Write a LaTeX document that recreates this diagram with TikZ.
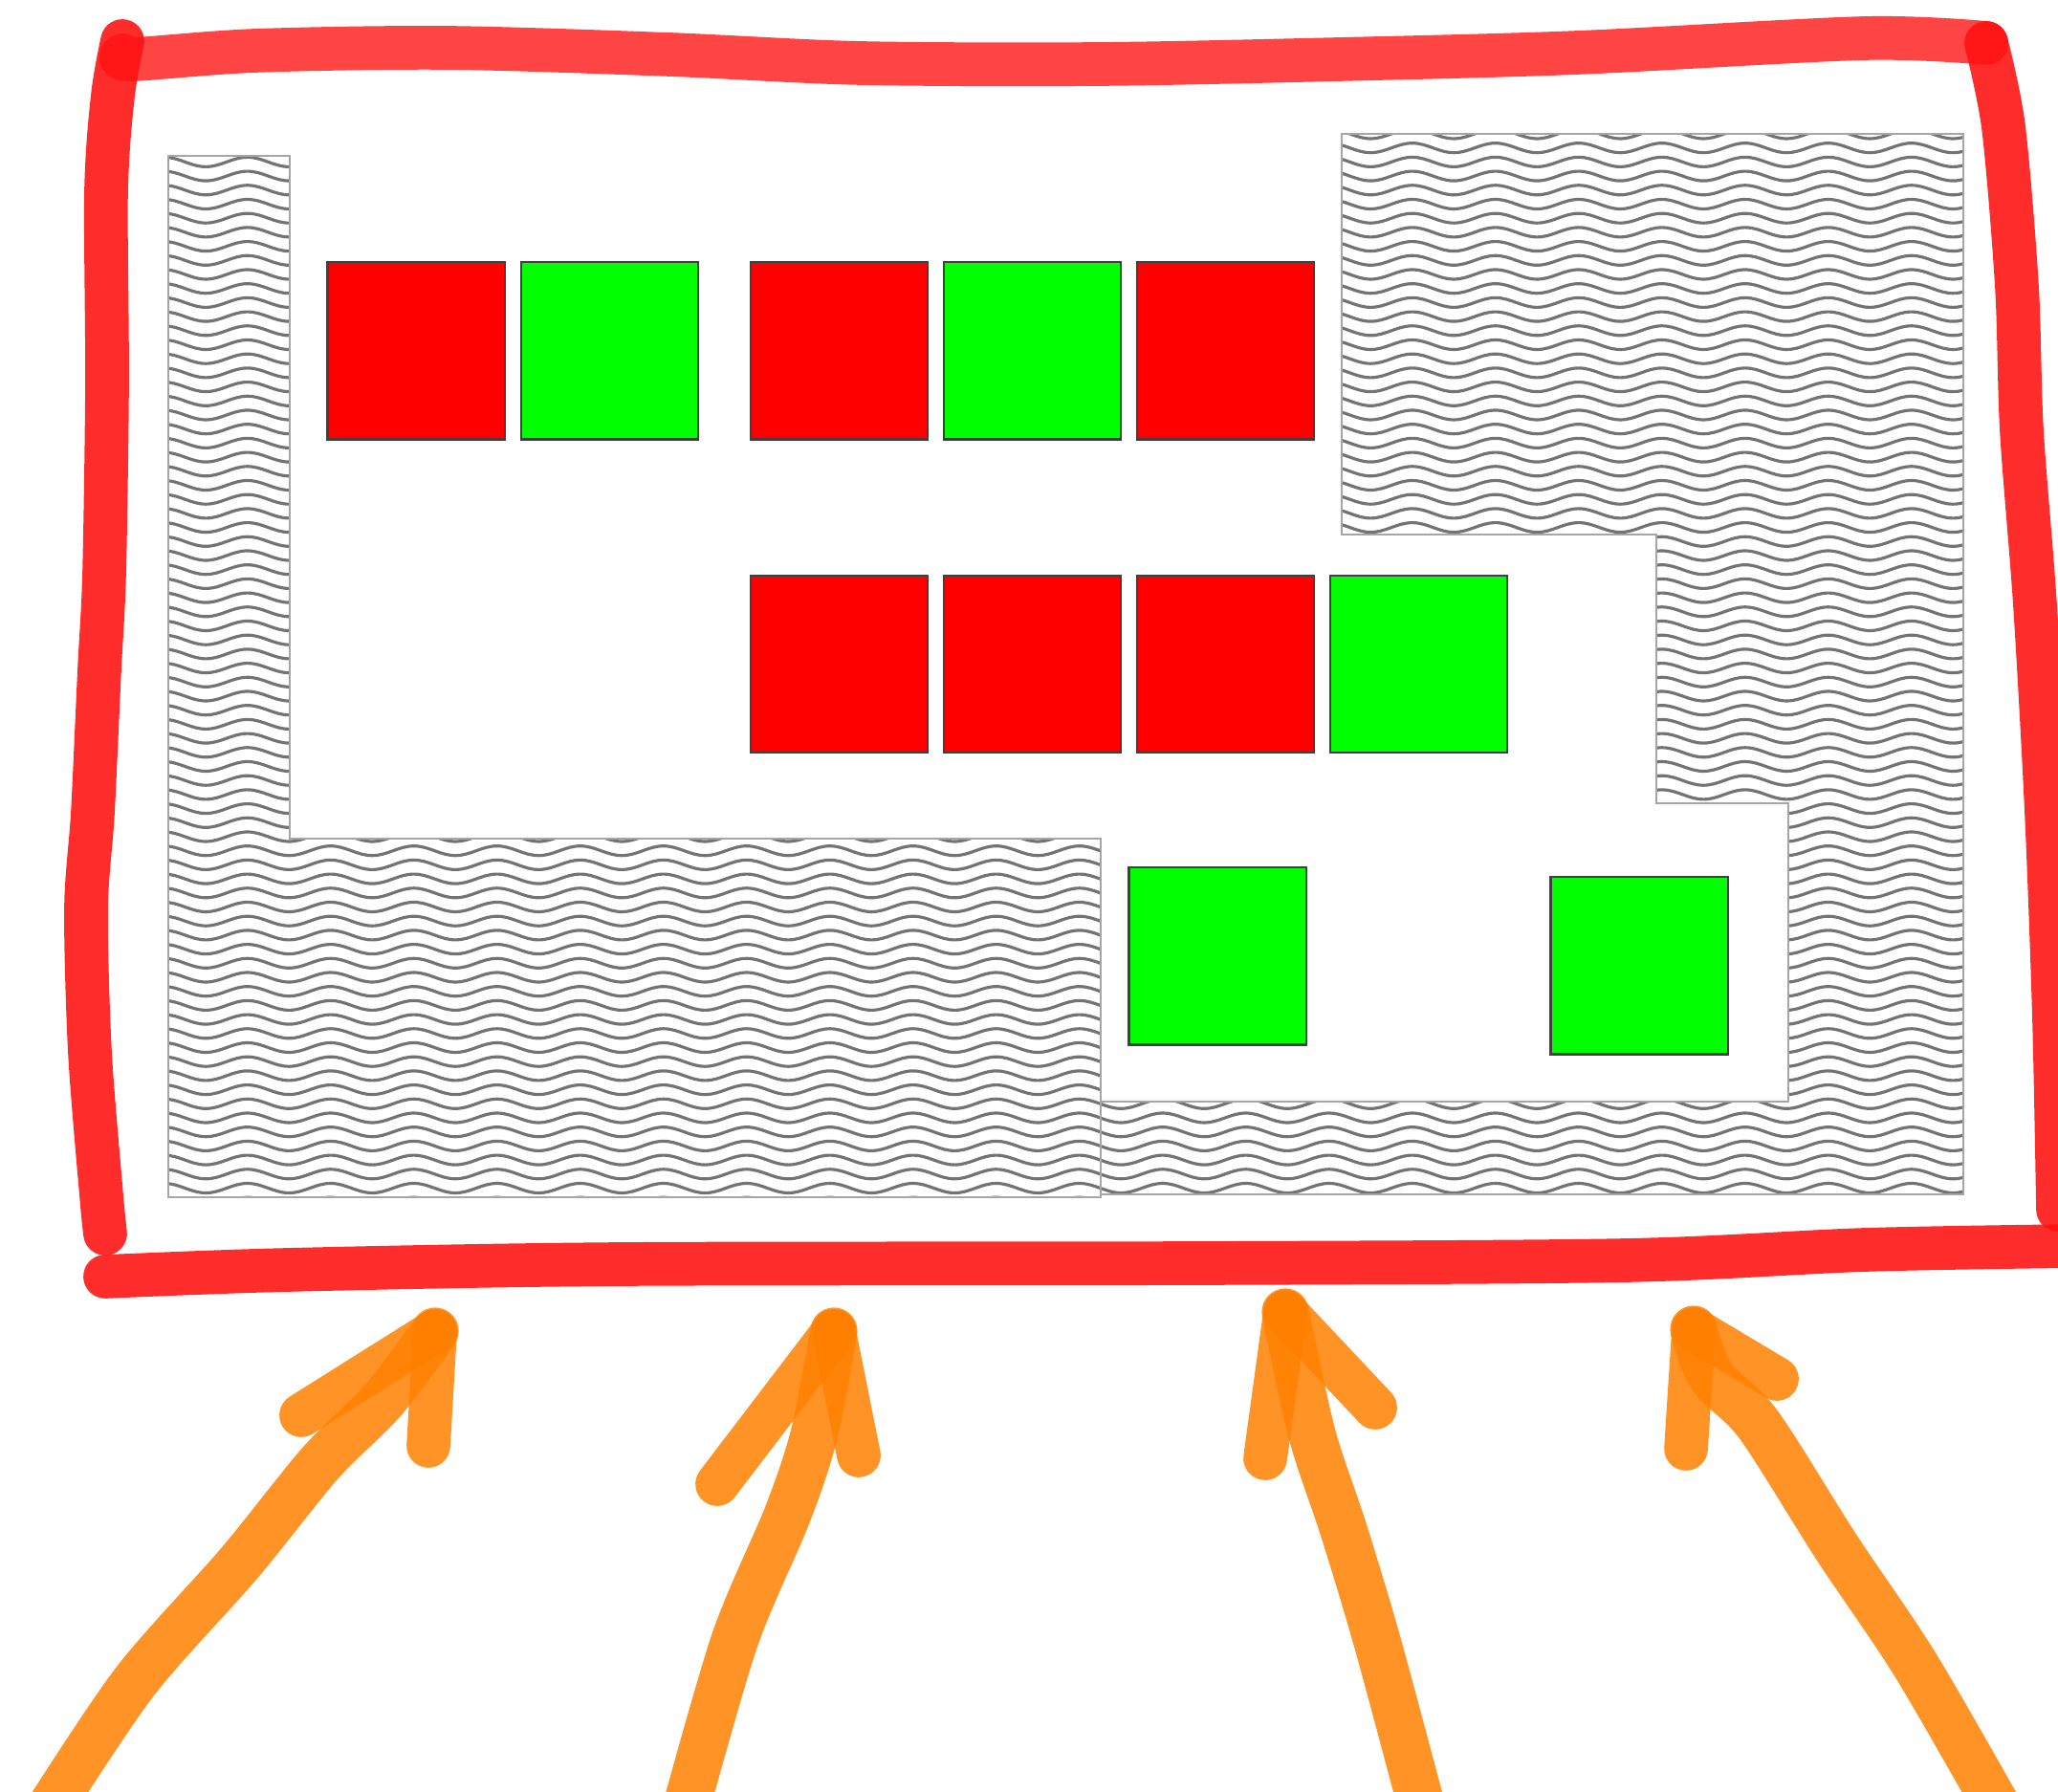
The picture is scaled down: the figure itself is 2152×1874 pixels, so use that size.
\documentclass[tikz,border=0pt]{standalone}
\usepackage{tikz}
\usetikzlibrary{positioning}

\definecolor{pen}{RGB}{255,15,15}
\definecolor{marker}{RGB}{255,128,0}

\tikzset{
  sq/.style={draw=black!75, line width=0.6pt, minimum size=1.85cm, inner sep=0pt, outer sep=0pt},
  rd/.style={sq, fill=red},
  gr/.style={sq, fill=green},
  wave/.style={draw=black!55, line width=0.9pt},
  zone/.style={draw=black!35, line width=0.45pt},
  redpen/.style={draw=pen, line width=13pt, line cap=round, line join=round, opacity=0.88},
  orangepen/.style={draw=marker, line width=14pt, line cap=round, line join=round, opacity=0.85},
  barb/.style={orangepen, line width=13pt}
}

\begin{document}
\begin{tikzpicture}[x=0.01cm, y=-0.01cm]
  \useasboundingbox (0,0) rectangle (2152,1874);

  % hatched zones
  \begin{scope}
    \clip (176,163) -- (303,163) -- (303,877) -- (1151,877) -- (1151,1252) -- (176,1252) -- cycle
      (1403,140) -- (2053,140) -- (2053,1249) -- (1151,1249) -- (1151,1152) -- (1870,1152)
      -- (1870,840) -- (1732,840) -- (1732,559) -- (1403,559) -- cycle;
    \foreach \i in {0,...,76}
      \draw[wave] (150,{140+14.7*\i}) \foreach \k in {1,...,23} {
        sin ++(21.75,-5) cos ++(21.75,5) sin ++(21.75,5) cos ++(21.75,-5) };
  \end{scope}
  \draw[zone] (176,163) -- (303,163) -- (303,877) -- (1151,877) -- (1151,1252) -- (176,1252) -- cycle;
  \draw[zone] (1403,140) -- (2053,140) -- (2053,1249) -- (1151,1249) -- (1151,1152) -- (1870,1152)
    -- (1870,840) -- (1732,840) -- (1732,559) -- (1403,559) -- cycle;

  \node[rd] (r1) at (435,367) {};
  \node[gr] (g1) [right=0.17cm of r1] {};
  \node[rd] (r2) [right=0.55cm of g1] {};
  \node[gr] (g2) [right=0.17cm of r2] {};
  \node[rd] (r3) [right=0.17cm of g2] {};
  \node[rd] (r4) [below=1.42cm of r2] {};
  \node[rd] (r5) [right=0.17cm of r4] {};
  \node[rd] (r6) [right=0.17cm of r5] {};
  \node[gr] (g3) [right=0.17cm of r6] {};
  \node[gr] (g4) at (1273,1000) {};
  \node[gr] (g5) at (1714,1010) {};

  % frame
  \draw[redpen, opacity=0.78] plot[smooth] coordinates {(128,58) (140,62) (267,53) (467,50) (700,57) (900,66)
    (1150,67) (1400,62) (1650,55) (1950,40) (2077,45)};
  \draw[redpen] plot[smooth] coordinates {(128,43) (118,100) (111,200) (112,400) (109,600) (104,700)
    (97,850) (90,950) (94,1100) (106,1250) (110,1290)};
  \draw[redpen] plot[smooth] coordinates {(2077,45) (2095,133) (2109,300) (2114,450) (2128,633)
    (2140,850) (2148,1067) (2152,1265)};
  \draw[redpen] plot[smooth] coordinates {(110,1335) (300,1328) (650,1322) (1250,1321) (1700,1318)
    (1950,1307) (2170,1303)};

  % arrows
  \coordinate (t1) at (455,1392);
  \coordinate (t2) at (872,1392);
  \coordinate (t3) at (1344,1372);
  \coordinate (t4) at (1771,1390);
  \draw[orangepen] plot[smooth] coordinates {(40,1910) (140,1760) (250,1635) (335,1530) (400,1465) (t1)};
  \draw[barb] (t1) -- (315,1480);
  \draw[barb] (t1) -- (448,1512);
  \draw[orangepen] plot[smooth] coordinates {(712,1910) (768,1716) (823,1585) (851,1501) (t2)};
  \draw[barb] (t2) -- (750,1552);
  \draw[barb] (t2) -- (898,1522);
  \draw[orangepen] plot[smooth] coordinates {(1492,1910) (1441,1720) (1405,1600) (1372,1500) (t3)};
  \draw[barb] (t3) -- (1323,1525);
  \draw[barb] (t3) -- (1438,1472);
  \draw[orangepen] plot[smooth] coordinates {(2100,1910) (2004,1743) (1921,1619) (1839,1490) (1790,1440) (t4)};
  \draw[barb] (t4) -- (1763,1515);
  \draw[barb] (t4) -- (1858,1442);
\end{tikzpicture}
\end{document}
